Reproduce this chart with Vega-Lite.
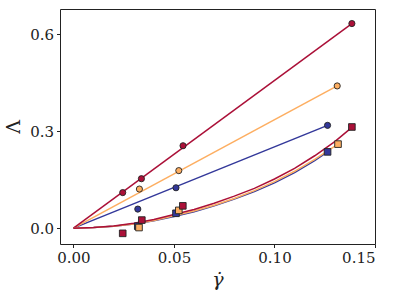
{
  "$schema": "https://vega.github.io/schema/vega-lite/v6.json",
  "autosize": "none",
  "width": 315,
  "height": 235,
  "padding": {"left": 60, "top": 9, "right": 24, "bottom": 54},
  "config": {
    "view": {"stroke": "#222", "strokeWidth": 1},
    "axis": {
      "labelFont": "DejaVu Serif",
      "titleFont": "DejaVu Serif",
      "labelFontSize": 15,
      "titleFontSize": 19,
      "labelColor": "#222",
      "titleColor": "#222",
      "titleFontWeight": "normal",
      "tickColor": "#222",
      "domain": false,
      "grid": false,
      "tickSize": 3.5,
      "labelPadding": 3
    }
  },
  "datasets": {
    "fits": [
      {"fit": "blue_lin", "series": "blue", "x": 0, "y": 0},
      {"fit": "blue_lin", "series": "blue", "x": 0.1264, "y": 0.318},
      {"fit": "orange_lin", "series": "orange", "x": 0, "y": 0},
      {"fit": "orange_lin", "series": "orange", "x": 0.1312, "y": 0.44},
      {"fit": "red_lin", "series": "red", "x": 0, "y": 0},
      {"fit": "red_lin", "series": "red", "x": 0.1385, "y": 0.633},
      {"fit": "blue_quad", "series": "blue", "x": 0, "y": 0},
      {"fit": "blue_quad", "series": "blue", "x": 0.01, "y": 0.002},
      {"fit": "blue_quad", "series": "blue", "x": 0.02, "y": 0.006},
      {"fit": "blue_quad", "series": "blue", "x": 0.03, "y": 0.013},
      {"fit": "blue_quad", "series": "blue", "x": 0.04, "y": 0.023},
      {"fit": "blue_quad", "series": "blue", "x": 0.05, "y": 0.036},
      {"fit": "blue_quad", "series": "blue", "x": 0.06, "y": 0.051},
      {"fit": "blue_quad", "series": "blue", "x": 0.07, "y": 0.069},
      {"fit": "blue_quad", "series": "blue", "x": 0.08, "y": 0.09},
      {"fit": "blue_quad", "series": "blue", "x": 0.09, "y": 0.113},
      {"fit": "blue_quad", "series": "blue", "x": 0.1, "y": 0.14},
      {"fit": "blue_quad", "series": "blue", "x": 0.11, "y": 0.172},
      {"fit": "blue_quad", "series": "blue", "x": 0.12, "y": 0.209},
      {"fit": "blue_quad", "series": "blue", "x": 0.1264, "y": 0.236},
      {"fit": "orange_quad", "series": "orange", "x": 0, "y": 0},
      {"fit": "orange_quad", "series": "orange", "x": 0.01, "y": 0.002},
      {"fit": "orange_quad", "series": "orange", "x": 0.02, "y": 0.006},
      {"fit": "orange_quad", "series": "orange", "x": 0.03, "y": 0.013},
      {"fit": "orange_quad", "series": "orange", "x": 0.04, "y": 0.024},
      {"fit": "orange_quad", "series": "orange", "x": 0.05, "y": 0.038},
      {"fit": "orange_quad", "series": "orange", "x": 0.06, "y": 0.053},
      {"fit": "orange_quad", "series": "orange", "x": 0.07, "y": 0.071},
      {"fit": "orange_quad", "series": "orange", "x": 0.08, "y": 0.092},
      {"fit": "orange_quad", "series": "orange", "x": 0.09, "y": 0.116},
      {"fit": "orange_quad", "series": "orange", "x": 0.1, "y": 0.144},
      {"fit": "orange_quad", "series": "orange", "x": 0.11, "y": 0.176},
      {"fit": "orange_quad", "series": "orange", "x": 0.12, "y": 0.213},
      {"fit": "orange_quad", "series": "orange", "x": 0.1316, "y": 0.26},
      {"fit": "red_quad", "series": "red", "x": 0, "y": 0},
      {"fit": "red_quad", "series": "red", "x": 0.01, "y": 0.002},
      {"fit": "red_quad", "series": "red", "x": 0.02, "y": 0.007},
      {"fit": "red_quad", "series": "red", "x": 0.03, "y": 0.015},
      {"fit": "red_quad", "series": "red", "x": 0.04, "y": 0.027},
      {"fit": "red_quad", "series": "red", "x": 0.05, "y": 0.042},
      {"fit": "red_quad", "series": "red", "x": 0.06, "y": 0.058},
      {"fit": "red_quad", "series": "red", "x": 0.07, "y": 0.077},
      {"fit": "red_quad", "series": "red", "x": 0.08, "y": 0.099},
      {"fit": "red_quad", "series": "red", "x": 0.09, "y": 0.123},
      {"fit": "red_quad", "series": "red", "x": 0.1, "y": 0.152},
      {"fit": "red_quad", "series": "red", "x": 0.11, "y": 0.185},
      {"fit": "red_quad", "series": "red", "x": 0.12, "y": 0.224},
      {"fit": "red_quad", "series": "red", "x": 0.13, "y": 0.268},
      {"fit": "red_quad", "series": "red", "x": 0.1385, "y": 0.312}
    ],
    "points": [
      {"series": "blue", "kind": "circle", "x": 0.032, "y": 0.059},
      {"series": "blue", "kind": "circle", "x": 0.051, "y": 0.125},
      {"series": "blue", "kind": "circle", "x": 0.1264, "y": 0.318},
      {"series": "blue", "kind": "square", "x": 0.032, "y": 0.006},
      {"series": "blue", "kind": "square", "x": 0.051, "y": 0.046},
      {"series": "blue", "kind": "square", "x": 0.1264, "y": 0.236},
      {"series": "orange", "kind": "circle", "x": 0.0328, "y": 0.121},
      {"series": "orange", "kind": "circle", "x": 0.0524, "y": 0.178},
      {"series": "orange", "kind": "circle", "x": 0.1312, "y": 0.44},
      {"series": "orange", "kind": "square", "x": 0.0326, "y": 0.002},
      {"series": "orange", "kind": "square", "x": 0.0524, "y": 0.055},
      {"series": "orange", "kind": "square", "x": 0.1316, "y": 0.26},
      {"series": "red", "kind": "circle", "x": 0.0245, "y": 0.11},
      {"series": "red", "kind": "circle", "x": 0.0338, "y": 0.153},
      {"series": "red", "kind": "circle", "x": 0.0545, "y": 0.255},
      {"series": "red", "kind": "circle", "x": 0.1385, "y": 0.633},
      {"series": "red", "kind": "square", "x": 0.0245, "y": -0.016},
      {"series": "red", "kind": "square", "x": 0.034, "y": 0.025},
      {"series": "red", "kind": "square", "x": 0.0544, "y": 0.069},
      {"series": "red", "kind": "square", "x": 0.1385, "y": 0.313}
    ]
  },
  "encoding": {
    "x": {
      "field": "x", "type": "quantitative",
      "scale": {"domain": [-0.0067, 0.15], "nice": false, "zero": false},
      "axis": {"values": [0, 0.05, 0.1, 0.15], "format": ".2f", "title": "γ̇", "titleFontStyle": "italic", "titlePadding": 5}
    },
    "y": {
      "field": "y", "type": "quantitative",
      "scale": {"domain": [-0.049, 0.678], "nice": false, "zero": false},
      "axis": {"values": [0, 0.3, 0.6], "format": ".1f", "title": "Λ", "titlePadding": 6}
    },
    "color": {
      "field": "series", "type": "nominal",
      "scale": {"domain": ["blue", "orange", "red"], "range": ["#33389a", "#fdae61", "#ab1038"]},
      "legend": null
    }
  },
  "layer": [
    {
      "data": {"name": "fits"},
      "mark": {"type": "line", "strokeWidth": 1.5, "clip": true},
      "encoding": {"detail": {"field": "fit", "type": "nominal"}}
    },
    {
      "data": {"name": "points"},
      "mark": {"type": "point", "filled": true, "opacity": 1, "stroke": "#222", "strokeWidth": 0.9},
      "encoding": {
        "shape": {"field": "kind", "type": "nominal", "scale": {"domain": ["circle", "square"], "range": ["circle", "square"]}, "legend": null},
        "size": {"field": "kind", "type": "nominal", "scale": {"domain": ["circle", "square"], "range": [38, 44]}, "legend": null}
      }
    }
  ]
}
